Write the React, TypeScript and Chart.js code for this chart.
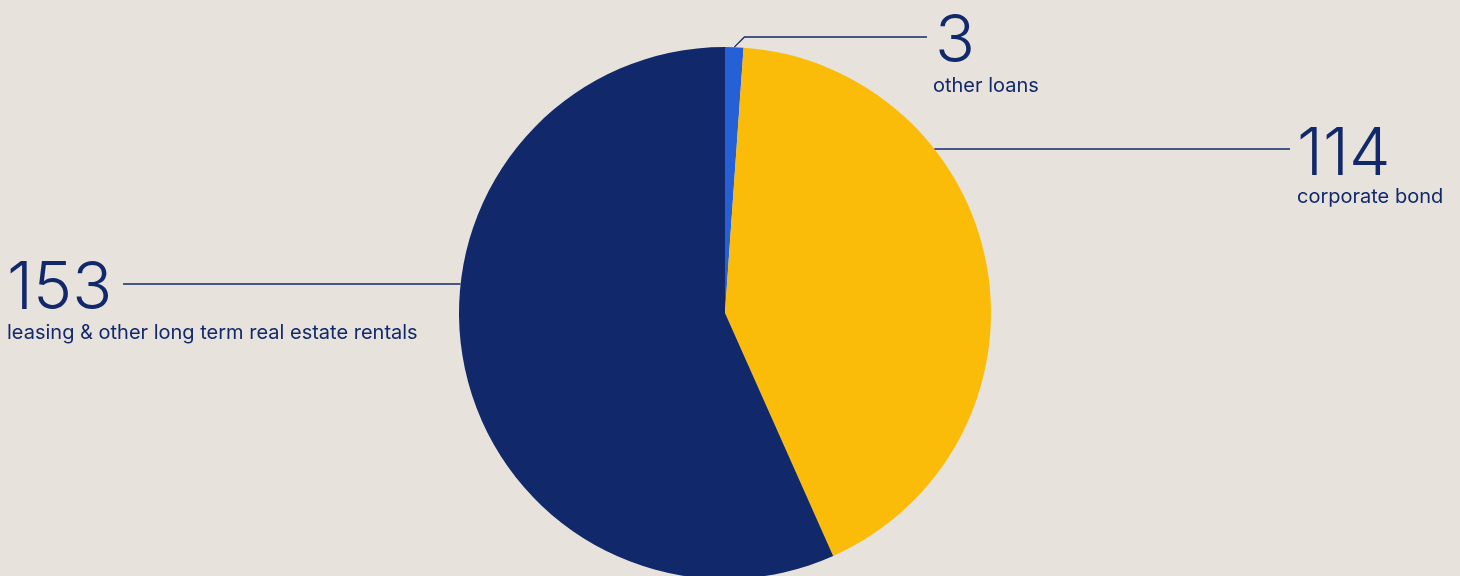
import React, { useEffect, useRef } from "react";
import { Chart, registerables } from "chart.js";

Chart.register(...registerables);

const categories = ["other loans", "corporate bond", "leasing & other long term real estate rentals"];
const values = [3, 114, 153];
const colors = ["#2560d6", "#fbbc09", "#11296b"];

const BG = "#e8e2dc";
const NAVY = "#11296b";

// label placement (layout only)
const labelLayout = [
  { lineY: 37, elbow: true, lineEndX: 927, numX: 935, textX: 933, numBase: 62, textBase: 92, side: "right" },
  { lineY: 149, elbow: false, lineEndX: 1290, numX: 1297, textX: 1297, numBase: 175, textBase: 203, side: "right" },
  { lineY: 284, elbow: false, lineEndX: 123, numX: 7, textX: 7, numBase: 309, textBase: 339, side: "left" },
];

const labelPlugin = {
  id: "leaderLabels",
  afterDatasetsDraw(chart: any) {
    const ctx = chart.ctx;
    const meta = chart.getDatasetMeta(0);
    meta.data.forEach((arc: any, i: number) => {
      const L = labelLayout[i];
      const { x: cx, y: cy, outerRadius: r, startAngle, endAngle } = arc.getProps(
        ["x", "y", "outerRadius", "startAngle", "endAngle"],
        true
      );
      ctx.save();
      ctx.strokeStyle = NAVY;
      ctx.lineWidth = 1.3;
      ctx.beginPath();
      if (L.elbow) {
        const mid = (startAngle + endAngle) / 2;
        const px = cx + Math.cos(mid) * r;
        const py = cy + Math.sin(mid) * r;
        ctx.moveTo(px, py);
        ctx.lineTo(px + (py - L.lineY), L.lineY);
        ctx.lineTo(L.lineEndX, L.lineY);
      } else {
        const dy = L.lineY - cy;
        const dx = Math.sqrt(Math.max(0, r * r - dy * dy));
        const ex = L.side === "right" ? cx + dx : cx - dx;
        ctx.moveTo(ex, L.lineY);
        ctx.lineTo(L.lineEndX, L.lineY);
      }
      ctx.stroke();
      ctx.fillStyle = NAVY;
      ctx.textAlign = "left";
      ctx.textBaseline = "alphabetic";
      ctx.font = "300 66px Inter";
      ctx.fillText(String(values[i]), L.numX, L.numBase);
      ctx.font = "400 20px Inter";
      ctx.fillText(categories[i], L.textX, L.textBase);
      ctx.restore();
    });
  },
};

export default function App() {
  const ref = useRef<HTMLCanvasElement>(null);
  useEffect(() => {
    document.body.style.margin = "0";
    document.body.style.background = BG;
    const chart = new Chart(ref.current!, {
      type: "pie",
      data: {
        labels: categories,
        datasets: [
          {
            data: values,
            backgroundColor: colors,
            borderWidth: 0,
            radius: 266,
            clip: false as any,
          },
        ],
      },
      options: {
        animation: false,
        responsive: false,
        maintainAspectRatio: false,
        layout: { padding: { top: 60, bottom: 10, left: 0, right: 10 } },
        plugins: {
          legend: { display: false },
          tooltip: { enabled: false },
        },
      },
      plugins: [labelPlugin],
    });
    return () => chart.destroy();
  }, []);
  return (
    <div style={{ width: 1460, height: 576, background: BG }}>
      <canvas ref={ref} width={1460} height={576} style={{ display: "block" }} />
    </div>
  );
}
